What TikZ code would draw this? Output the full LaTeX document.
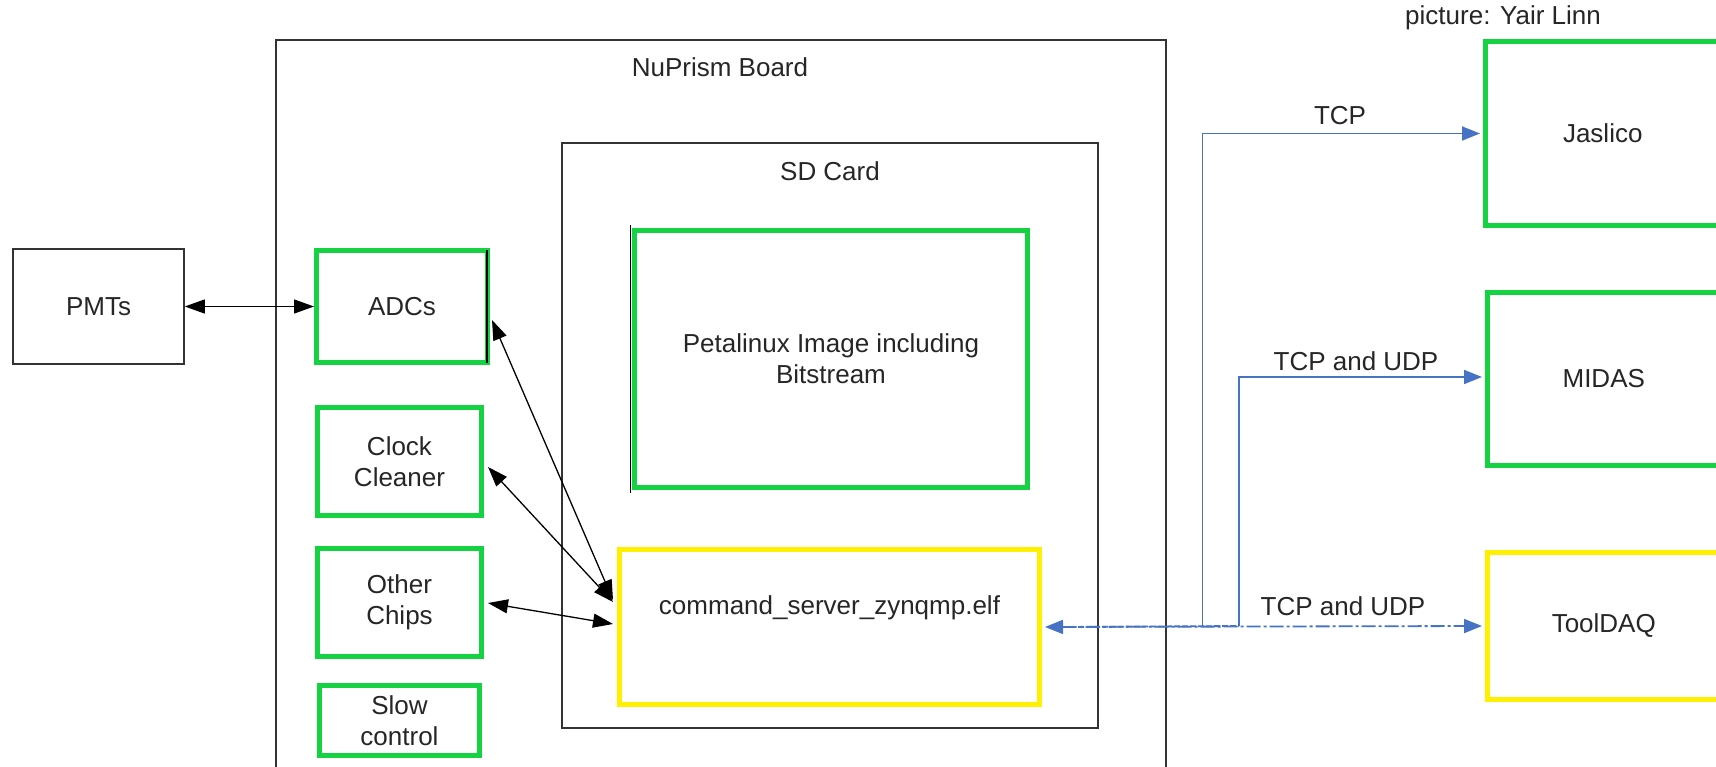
\documentclass[tikz,border=0pt]{standalone}
\usepackage{fontspec}
\setmainfont{Liberation Sans}
\usetikzlibrary{arrows.meta}
\definecolor{bgreen}{RGB}{20,210,66}
\definecolor{byellow}{RGB}{255,240,0}
\definecolor{bblue}{RGB}{70,115,196}
\begin{document}
\begin{tikzpicture}[x=1pt,y=-1pt,
  every node/.style={font=\fontsize{26}{31}\selectfont, text=black!85},
  plainbox/.style={draw=black!80, line width=1.6pt, rectangle, inner sep=0pt, align=center},
  gbox/.style={draw=bgreen, line width=5pt, rectangle, inner sep=0pt, align=center},
  ybox/.style={draw=byellow, line width=5pt, rectangle, inner sep=0pt, align=center},
  blk/.style={black, line width=1.3pt, {Triangle[length=20pt,width=14pt]}-{Triangle[length=20pt,width=14pt]}},
  bline/.style={draw=bblue, line width=1.8pt},
  btip/.style={-{Triangle[length=18pt,width=14pt]}},
  lbl/.style={inner sep=1pt}
]
\clip (0,0) rectangle (1716,767);
\fill[white] (0,0) rectangle (1716,767);

% containers
\node[plainbox, minimum width=890, minimum height=760] (board) at (721,420) {};
\node[lbl] (boardlbl) at (720,67) {NuPrism Board};
\node[plainbox, minimum width=536, minimum height=585] (sd) at (830,435.5) {};
\node[lbl] (sdlbl) at (830,171) {SD Card};

% left
\node[plainbox, minimum width=171, minimum height=115] (pmt) at (98.5,306.5) {PMTs};
\node[gbox, minimum width=171, minimum height=112] (adc) at (402,306.5) {ADCs};
\draw[black, line width=1.5pt] ([xshift=-3.2pt,yshift=-2.5pt]adc.north east) -- ([xshift=-3.2pt,yshift=2.5pt]adc.south east);
\node[gbox, minimum width=164, minimum height=108] (clk) at (399.5,461.5) {Clock\\Cleaner};
\node[gbox, minimum width=164, minimum height=108] (oth) at (399.5,602.5) {Other\\Chips};
\node[gbox, minimum width=160, minimum height=70] (slow) at (399.5,720.5) {Slow\\control};

% SD contents
\node[gbox, minimum width=393, minimum height=257] (peta) at (831,359) {Petalinux Image including\\Bitstream};
\draw[black, line width=1.5pt] ([xshift=-1.5pt,yshift=2.5pt]peta.north west) -- ([xshift=-1.5pt,yshift=-2.5pt]peta.south west);
\node[ybox, minimum width=420, minimum height=155, label={[yshift=19pt, font=\fontsize{26}{31}\selectfont]center:command\_server\_zynqmp.elf}] (cmd) at (829.5,627) {};

% right
\node[gbox, minimum width=234.5, minimum height=184] (jas) at (1602.75,133.5) {Jaslico};
\node[gbox, minimum width=232.5, minimum height=173.5] (mid) at (1603.75,379) {MIDAS};
\node[ybox, minimum width=232.5, minimum height=147] (tool) at (1603.75,626) {ToolDAQ};

\node[lbl] (credit) at (1503,18) {picture: Yair Linn};

% black connectors
\draw[blk] (pmt.east) -- (adc.west);
\draw[blk] ([yshift=-13.5pt,xshift=2pt]adc.east) -- ([yshift=27pt,xshift=-4pt]cmd.west);
\draw[blk] ([yshift=-5.5pt,xshift=4pt]clk.east) -- ([yshift=25pt,xshift=-4pt]cmd.west);
\draw[blk] ([yshift=-0.5pt,xshift=4pt]oth.east) -- ([yshift=3pt,xshift=-4pt]cmd.west);

% blue connectors
\coordinate (j1) at (1202.5,626);
\coordinate (j2) at (1239,626);
\draw[bline, dash pattern=on 14pt off 3pt on 3pt off 3pt, {Triangle[length=18pt,width=14pt]}-{Triangle[length=18pt,width=14pt]}] ([xshift=3pt]cmd.east) -- ([xshift=-3pt]tool.west);
\draw[bline, dash pattern=on 6pt off 2pt] ([xshift=20pt]cmd.east) -- (j2);
\draw[bline, btip] (j1) |- ([xshift=-3pt]jas.west);
\draw[bline, btip] (j2) |- ([xshift=-3pt,yshift=2pt]mid.west);
\node[lbl] (t1) at (1340,116) {TCP};
\node[lbl] (t2) at (1356,361) {TCP and UDP};
\node[lbl] (t3) at (1343,606) {TCP and UDP};
\end{tikzpicture}
\end{document}
